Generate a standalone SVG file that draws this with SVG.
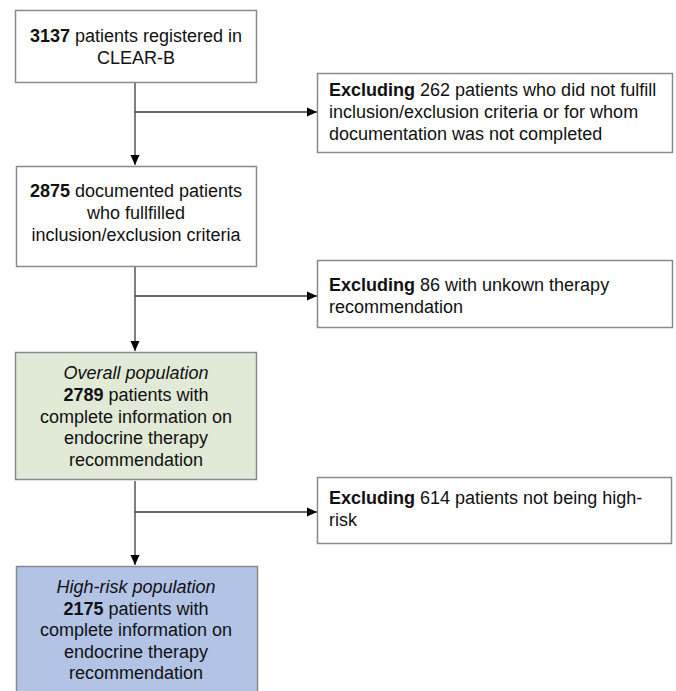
<svg xmlns="http://www.w3.org/2000/svg" width="676" height="691" viewBox="0 0 676 691">
<style>
  .box { stroke: #8a8a8a; stroke-width: 1.5; }
  .plain { fill: #ffffff; }
  .green { fill: #e1ead6; }
  .blue { fill: #b2c3e5; }
  .t { font-family: "Liberation Sans", Arial, sans-serif; font-size: 18px; fill: #111111; }
  .c { text-anchor: middle; }
  .b { font-weight: bold; }
  .i { font-style: italic; }
  .conn { stroke: #3a3a3a; stroke-width: 1.3; fill: none; }
</style>
<defs>
  <marker id="arrow" markerUnits="userSpaceOnUse" markerWidth="10" markerHeight="10" viewBox="0 0 10 10" refX="10" refY="5" orient="auto">
    <path d="M0,0.5 L10,5 L0,9.5 Z" fill="#000000"/>
  </marker>
</defs>
<rect width="676" height="691" fill="#ffffff"/>

<g id="connectors">
  <line class="conn" x1="135" y1="82" x2="135" y2="165" marker-end="url(#arrow)"/>
  <line class="conn" x1="135" y1="112" x2="317" y2="112" marker-end="url(#arrow)"/>
  <line class="conn" x1="135" y1="266" x2="135" y2="351" marker-end="url(#arrow)"/>
  <line class="conn" x1="135" y1="296" x2="317" y2="296" marker-end="url(#arrow)"/>
  <line class="conn" x1="135" y1="481" x2="135" y2="565" marker-end="url(#arrow)"/>
  <line class="conn" x1="135" y1="512" x2="317" y2="512" marker-end="url(#arrow)"/>
</g>

<g id="n1">
  <rect class="box plain" x="15.5" y="10.5" width="241" height="72"/>
  <text class="t c" x="136" y="42"><tspan class="b">3137</tspan> patients registered in</text>
  <text class="t c" x="136" y="63.5">CLEAR-B</text>
</g>

<g id="n2">
  <rect class="box plain" x="317.5" y="73.5" width="355" height="79"/>
  <text class="t" x="329" y="96"><tspan class="b">Excluding</tspan> 262 patients who did not fulfill</text>
  <text class="t" x="329" y="118">inclusion/exclusion criteria or for whom</text>
  <text class="t" x="329" y="140">documentation was not completed</text>
</g>

<g id="n3">
  <rect class="box plain" x="16.5" y="166.5" width="240" height="100"/>
  <text class="t c" x="136" y="197"><tspan class="b">2875</tspan> documented patients</text>
  <text class="t c" x="136" y="219">who fullfilled</text>
  <text class="t c" x="136" y="241">inclusion/exclusion criteria</text>
</g>

<g id="n4">
  <rect class="box plain" x="317.5" y="260.5" width="355" height="67"/>
  <text class="t" x="329" y="291"><tspan class="b">Excluding</tspan> 86 with unkown therapy</text>
  <text class="t" x="329" y="313">recommendation</text>
</g>

<g id="n5">
  <rect class="box green" x="15.5" y="352.5" width="241" height="127"/>
  <text class="t c i" x="136" y="379">Overall population</text>
  <text class="t c" x="136" y="401"><tspan class="b">2789</tspan> patients with</text>
  <text class="t c" x="136" y="422.5">complete information on</text>
  <text class="t c" x="136" y="444">endocrine therapy</text>
  <text class="t c" x="136" y="465.5">recommendation</text>
</g>

<g id="n6">
  <rect class="box plain" x="317.5" y="477.5" width="354" height="66"/>
  <text class="t" x="329" y="504"><tspan class="b">Excluding</tspan> 614 patients not being high-</text>
  <text class="t" x="329" y="526">risk</text>
</g>

<g id="n7">
  <rect class="box blue" x="16.5" y="566.5" width="241" height="130"/>
  <text class="t c i" x="136" y="593">High-risk population</text>
  <text class="t c" x="136" y="614.5"><tspan class="b">2175</tspan> patients with</text>
  <text class="t c" x="136" y="636">complete information on</text>
  <text class="t c" x="136" y="657.5">endocrine therapy</text>
  <text class="t c" x="136" y="679">recommendation</text>
</g>
</svg>
